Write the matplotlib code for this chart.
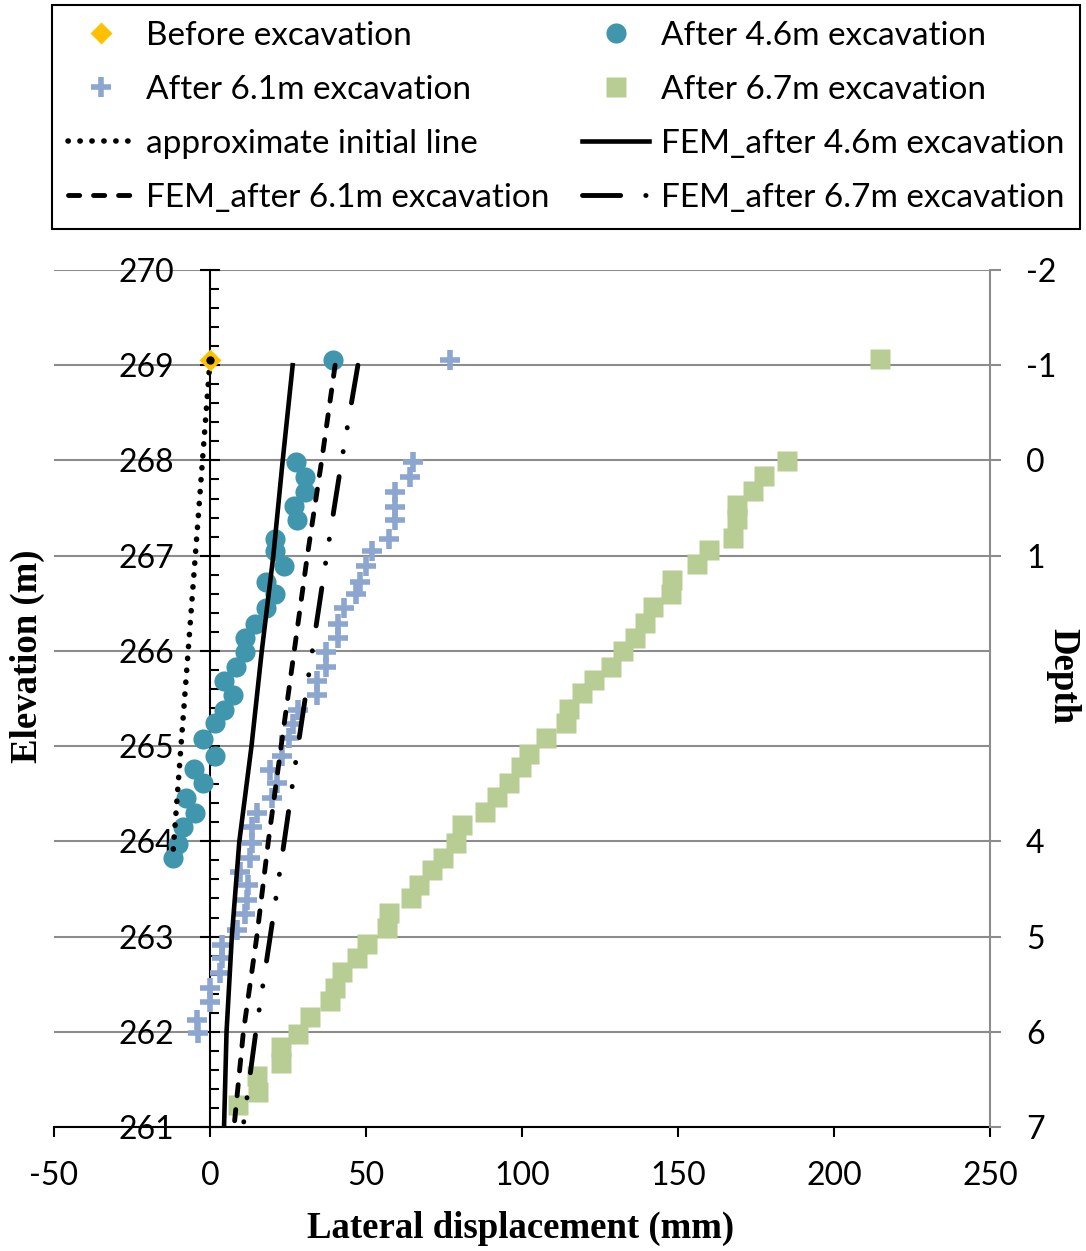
import numpy as np
import matplotlib
matplotlib.use("Agg")
import matplotlib.pyplot as plt
from matplotlib.ticker import MultipleLocator, FixedLocator

plt.rcParams["axes.unicode_minus"] = False

W, H = 1086, 1251

# measured inclinometer readings: elevation (m) and lateral displacement (mm)
elev_before = [269.05]
disp_before = [0.0]

elev_46 = [269.05, 267.98, 267.83, 267.67, 267.52, 267.37, 267.18, 267.05, 266.89,
           266.72, 266.60, 266.45, 266.28, 266.14, 265.99, 265.83, 265.68, 265.54,
           265.38, 265.24, 265.07, 264.90, 264.76, 264.61, 264.45, 264.30, 264.15,
           263.97, 263.82]
disp_46 = [39.4, 27.6, 30.4, 30.4, 27.0, 27.8, 20.8, 20.8, 23.7,
           17.9, 20.8, 17.9, 14.4, 11.2, 11.2, 8.3, 4.5, 7.4,
           4.5, 1.6, -2.2, 1.6, -5.1, -2.2, -7.7, -4.8, -8.7,
           -10.3, -11.9]

elev_61 = [269.05, 267.98, 267.83, 267.67, 267.51, 267.37, 267.18, 267.05, 266.89,
           266.72, 266.60, 266.45, 266.28, 266.14, 265.99, 265.83, 265.68, 265.54,
           265.38, 265.23, 265.08, 264.90, 264.75, 264.61, 264.45, 264.30, 264.15,
           263.98, 263.83, 263.68, 263.54, 263.38, 263.24, 263.07, 262.91, 262.77,
           262.62, 262.46, 262.31, 262.12, 261.99]
disp_61 = [76.9, 65.1, 64.1, 59.3, 59.3, 59.3, 57.4, 51.9, 50.0,
           48.1, 46.8, 42.9, 41.0, 41.0, 37.2, 37.2, 34.3, 34.3,
           28.2, 26.5, 25.3, 23.1, 19.2, 21.4, 19.9, 15.1, 13.5,
           13.5, 12.8, 9.6, 12.2, 11.9, 11.2, 8.7, 3.8, 3.8,
           3.2, 0.0, 0.0, -4.2, -3.8]

elev_67 = [269.07, 267.99, 267.84, 267.68, 267.53, 267.39, 267.19, 267.06, 266.91,
           266.74, 266.60, 266.46, 266.29, 266.14, 266.00, 265.83, 265.69, 265.56,
           265.39, 265.24, 265.09, 264.92, 264.78, 264.61, 264.47, 264.31, 264.17,
           263.98, 263.83, 263.70, 263.54, 263.40, 263.25, 263.09, 262.92, 262.77,
           262.63, 262.46, 262.32, 262.15, 261.98, 261.84, 261.67, 261.54, 261.37,
           261.23]
disp_67 = [214.7, 184.9, 177.6, 174.0, 168.9, 168.9, 167.6, 159.9, 156.1,
           148.1, 147.8, 142.0, 139.4, 136.2, 132.4, 128.5, 123.1, 119.2,
           115.1, 114.1, 107.7, 102.2, 99.7, 95.8, 92.0, 88.1, 80.8,
           78.8, 74.7, 71.2, 67.0, 64.4, 57.4, 56.7, 50.3, 47.1,
           42.3, 40.1, 38.5, 32.1, 28.2, 22.8, 22.8, 15.1, 15.4,
           9.0]

# approximate initial line
elev_init = [269.05, 263.82]
disp_init = [0.0, -12.0]

# FEM predictions
fem_elev = [269, 268, 267, 266, 265, 264, 263, 262, 261]
fem_46 = [26.5, 23.3, 20.3, 16.6, 13.3, 9.4, 7.0, 5.3, 4.5]
fem_61 = [40.1, 35.8, 31.2, 27.0, 22.8, 18.7, 15.0, 10.7, 7.7]
fem_67 = [47.4, 42.2, 37.4, 32.8, 28.2, 23.8, 19.3, 14.7, 10.6]

x_ticks = [-50, 0, 50, 100, 150, 200, 250]
depth_ticks = [-2, -1, 0, 1, 4, 5, 6, 7]

SANS = "Lato"
SERIF = "Liberation Serif"
GRID = "#8c8c8c"

fig = plt.figure(figsize=(W / 100, H / 100), dpi=100)
ax = fig.add_axes([54 / W, 124 / H, 936 / W, 857 / H])

ax.set_xlim(-50, 250)
ax.set_ylim(261, 270)

# measured points
ax.plot(disp_46, elev_46, "o", ms=14.5, color="#4096ac", mec="none", zorder=3,
        label="After 4.6m excavation")
ax.plot(disp_61, elev_61, "+", ms=15, mew=4, color="#8ca6d0", zorder=3,
        label="After 6.1m excavation")
ax.plot(disp_67, elev_67, "s", ms=14.4, color="#b8cd94", mec="none", zorder=3,
        label="After 6.7m excavation")

# initial line and FEM curves
ax.plot(disp_init, elev_init, color="black", lw=4, ls=(0, (0.05, 2.1)),
        dash_capstyle="round", zorder=4, label="approximate initial line")
ax.plot(fem_46, fem_elev, color="black", lw=3.3, zorder=4,
        label="FEM_after 4.6m excavation")
ax.plot(fem_61, fem_elev, color="black", lw=3.5, ls=(0, (2.3, 2.85)),
        dash_capstyle="round", zorder=4, label="FEM_after 6.1m excavation")
ax.plot(fem_67, fem_elev, color="black", lw=3.5,
        ls=(0, (7.85, 5.17, 0.05, 4.94, 0.05, 5.17)),
        dash_capstyle="round", zorder=4, label="FEM_after 6.7m excavation")
ax.plot(disp_before, elev_before, "D", ms=11, color="#ffc000", mec="none",
        zorder=5, label="Before excavation")
ax.plot(disp_before, elev_before, "o", ms=5, color="black", zorder=6)

# vertical axis crosses at x = 0
ax.spines["left"].set_position(("data", 0))
ax.spines["left"].set_linewidth(1.5)
ax.spines["bottom"].set_linewidth(1.5)
ax.spines["top"].set_visible(False)
ax.spines["right"].set_visible(False)
ax.set_axisbelow(True)
ax.grid(axis="y", which="major", color=GRID, lw=1.5)

ax.xaxis.set_major_locator(FixedLocator(x_ticks))
ax.yaxis.set_major_locator(MultipleLocator(1))
ax.yaxis.set_minor_locator(MultipleLocator(0.2))
ax.tick_params(axis="x", direction="out", length=7.5, width=1.5, pad=17,
               labelsize=23)
ax.tick_params(axis="y", which="major", direction="inout", length=15,
               width=1.5, pad=18, labelsize=23)
ax.tick_params(axis="y", which="minor", direction="in", length=6.5, width=1.5)
for lab in ax.get_xticklabels() + ax.get_yticklabels():
    lab.set_family(SANS)

# depth axis on the right
ax2 = ax.twinx()
ax2.set_ylim(7, -2)
ax2.yaxis.set_major_locator(FixedLocator(depth_ticks))
for s in ("left", "top", "bottom"):
    ax2.spines[s].set_visible(False)
ax2.spines["right"].set_color(GRID)
ax2.spines["right"].set_linewidth(1.5)
ax2.tick_params(axis="y", direction="out", length=8, width=1.5, color=GRID,
                pad=18, labelsize=23)
for lab in ax2.get_yticklabels():
    lab.set_family(SANS)

# axis titles
fig.text(521 / W, 1 - 1228 / H, "Lateral displacement (mm)", ha="center",
         va="center", family=SERIF, weight="bold", fontsize=26.5)
fig.text(27 / W, 1 - 656 / H, "Elevation (m)", ha="center", va="center",
         rotation=90, family=SERIF, weight="bold", fontsize=26.5)
fig.text(1063 / W, 1 - 676 / H, "Depth", ha="center", va="center",
         rotation=-90, family=SERIF, weight="bold", fontsize=26.5)

# legend (filled column by column)
h, l = ax.get_legend_handles_labels()
lookup = dict(zip(l, h))
order = ["Before excavation", "After 6.1m excavation", "approximate initial line",
         "FEM_after 6.1m excavation", "After 4.6m excavation",
         "After 6.7m excavation", "FEM_after 4.6m excavation",
         "FEM_after 6.7m excavation"]
leg = fig.legend([lookup[k] for k in order], order, ncol=2, loc="upper left",
                 bbox_to_anchor=(52 / W, 0, 1028 / W, 1 - 5 / H),
                 mode="expand", prop={"family": SANS, "size": 24},
                 handlelength=2.0, handletextpad=0.35, labelspacing=0.72,
                 borderpad=0.48, borderaxespad=0, fancybox=False,
                 edgecolor="black", framealpha=1, numpoints=1)
leg.get_frame().set_linewidth(1.5)

fig.savefig("out.png", dpi=100)
